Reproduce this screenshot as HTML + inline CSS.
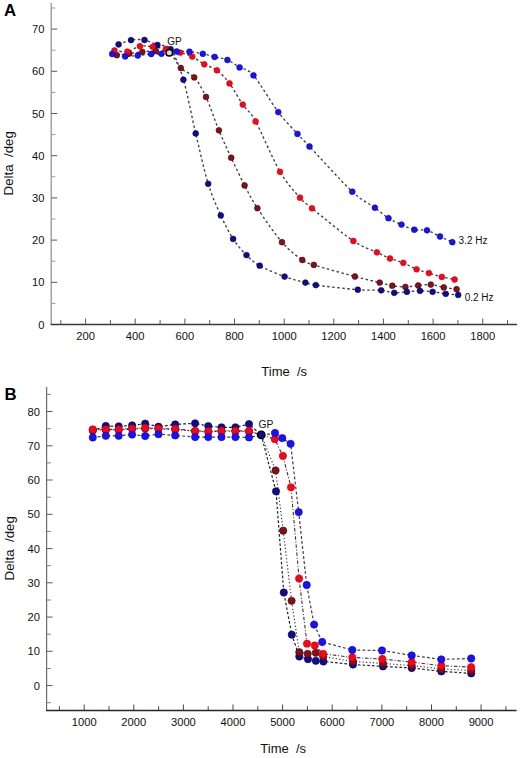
<!DOCTYPE html>
<html><head><meta charset="utf-8"><style>
html,body{margin:0;padding:0;background:#fff;}
body{width:520px;height:758px;position:relative;overflow:hidden;font-family:"Liberation Sans", sans-serif;}
</style></head><body>
<svg width="520" height="758" viewBox="0 0 520 758" style="position:absolute;left:0;top:0" font-family='"Liberation Sans", sans-serif'><rect width="520" height="758" fill="#fff"/><line x1="51.2" y1="3" x2="51.2" y2="324.6" stroke="#8c8c8c" stroke-width="1.2"/><line x1="50.6" y1="324.6" x2="517" y2="324.6" stroke="#383838" stroke-width="1.5"/><text x="44.5" y="328.5" font-size="11.2" text-anchor="end" fill="#111">0</text><line x1="51.2" y1="303.4" x2="55.400000000000006" y2="303.4" stroke="#9a9a9a" stroke-width="1"/><line x1="51.2" y1="282.3" x2="57.2" y2="282.3" stroke="#5a5a5a" stroke-width="1"/><text x="44.5" y="286.3" font-size="11.2" text-anchor="end" fill="#111">10</text><line x1="51.2" y1="261.2" x2="55.400000000000006" y2="261.2" stroke="#9a9a9a" stroke-width="1"/><line x1="51.2" y1="240.1" x2="57.2" y2="240.1" stroke="#5a5a5a" stroke-width="1"/><text x="44.5" y="244.1" font-size="11.2" text-anchor="end" fill="#111">20</text><line x1="51.2" y1="219.0" x2="55.400000000000006" y2="219.0" stroke="#9a9a9a" stroke-width="1"/><line x1="51.2" y1="197.9" x2="57.2" y2="197.9" stroke="#5a5a5a" stroke-width="1"/><text x="44.5" y="201.9" font-size="11.2" text-anchor="end" fill="#111">30</text><line x1="51.2" y1="176.8" x2="55.400000000000006" y2="176.8" stroke="#9a9a9a" stroke-width="1"/><line x1="51.2" y1="155.7" x2="57.2" y2="155.7" stroke="#5a5a5a" stroke-width="1"/><text x="44.5" y="159.7" font-size="11.2" text-anchor="end" fill="#111">40</text><line x1="51.2" y1="134.6" x2="55.400000000000006" y2="134.6" stroke="#9a9a9a" stroke-width="1"/><line x1="51.2" y1="113.5" x2="57.2" y2="113.5" stroke="#5a5a5a" stroke-width="1"/><text x="44.5" y="117.5" font-size="11.2" text-anchor="end" fill="#111">50</text><line x1="51.2" y1="92.4" x2="55.400000000000006" y2="92.4" stroke="#9a9a9a" stroke-width="1"/><line x1="51.2" y1="71.3" x2="57.2" y2="71.3" stroke="#5a5a5a" stroke-width="1"/><text x="44.5" y="75.3" font-size="11.2" text-anchor="end" fill="#111">60</text><line x1="51.2" y1="50.2" x2="55.400000000000006" y2="50.2" stroke="#9a9a9a" stroke-width="1"/><line x1="51.2" y1="29.1" x2="57.2" y2="29.1" stroke="#5a5a5a" stroke-width="1"/><text x="44.5" y="33.1" font-size="11.2" text-anchor="end" fill="#111">70</text><line x1="51.2" y1="8.0" x2="55.400000000000006" y2="8.0" stroke="#9a9a9a" stroke-width="1"/><line x1="60.8" y1="324.6" x2="60.8" y2="320.1" stroke="#555" stroke-width="1"/><line x1="85.6" y1="324.6" x2="85.6" y2="318.6" stroke="#555" stroke-width="1"/><text x="85.6" y="339.6" font-size="11.2" text-anchor="middle" fill="#111">200</text><line x1="110.4" y1="324.6" x2="110.4" y2="320.1" stroke="#555" stroke-width="1"/><line x1="135.2" y1="324.6" x2="135.2" y2="318.6" stroke="#555" stroke-width="1"/><text x="135.2" y="339.6" font-size="11.2" text-anchor="middle" fill="#111">400</text><line x1="160.1" y1="324.6" x2="160.1" y2="320.1" stroke="#555" stroke-width="1"/><line x1="184.9" y1="324.6" x2="184.9" y2="318.6" stroke="#555" stroke-width="1"/><text x="184.9" y="339.6" font-size="11.2" text-anchor="middle" fill="#111">600</text><line x1="209.7" y1="324.6" x2="209.7" y2="320.1" stroke="#555" stroke-width="1"/><line x1="234.5" y1="324.6" x2="234.5" y2="318.6" stroke="#555" stroke-width="1"/><text x="234.5" y="339.6" font-size="11.2" text-anchor="middle" fill="#111">800</text><line x1="259.3" y1="324.6" x2="259.3" y2="320.1" stroke="#555" stroke-width="1"/><line x1="284.2" y1="324.6" x2="284.2" y2="318.6" stroke="#555" stroke-width="1"/><text x="284.2" y="339.6" font-size="11.2" text-anchor="middle" fill="#111">1000</text><line x1="309.0" y1="324.6" x2="309.0" y2="320.1" stroke="#555" stroke-width="1"/><line x1="333.8" y1="324.6" x2="333.8" y2="318.6" stroke="#555" stroke-width="1"/><text x="333.8" y="339.6" font-size="11.2" text-anchor="middle" fill="#111">1200</text><line x1="358.6" y1="324.6" x2="358.6" y2="320.1" stroke="#555" stroke-width="1"/><line x1="383.4" y1="324.6" x2="383.4" y2="318.6" stroke="#555" stroke-width="1"/><text x="383.4" y="339.6" font-size="11.2" text-anchor="middle" fill="#111">1400</text><line x1="408.3" y1="324.6" x2="408.3" y2="320.1" stroke="#555" stroke-width="1"/><line x1="433.1" y1="324.6" x2="433.1" y2="318.6" stroke="#555" stroke-width="1"/><text x="433.1" y="339.6" font-size="11.2" text-anchor="middle" fill="#111">1600</text><line x1="457.9" y1="324.6" x2="457.9" y2="320.1" stroke="#555" stroke-width="1"/><line x1="482.7" y1="324.6" x2="482.7" y2="318.6" stroke="#555" stroke-width="1"/><text x="482.7" y="339.6" font-size="11.2" text-anchor="middle" fill="#111">1800</text><line x1="507.5" y1="324.6" x2="507.5" y2="320.1" stroke="#555" stroke-width="1"/><text x="261.3" y="376" font-size="13" fill="#111" xml:space="preserve">Time  /s</text><text transform="translate(12.7,163.3) rotate(-90)" font-size="13.3" text-anchor="middle" fill="#111" xml:space="preserve">Delta  /deg</text><text x="4.0" y="16.2" font-size="16.8" font-weight="bold" fill="#000">A</text><path d="M118.60,44.40 C120.67,43.68 126.68,40.83 131.00,40.10 C135.32,39.37 140.10,39.18 144.50,40.00 C148.90,40.82 153.05,43.47 157.40,45.00 C161.75,46.53 166.27,43.42 170.60,49.20 C174.93,54.98 179.22,65.67 183.40,79.70 C187.58,93.73 191.57,116.05 195.70,133.40 C199.83,150.75 204.02,170.13 208.20,183.80 C212.38,197.47 216.65,206.22 220.80,215.40 C224.95,224.58 228.82,232.28 233.10,238.90 C237.38,245.52 242.07,250.63 246.50,255.10 C250.93,259.57 253.35,262.12 259.70,265.70 C266.05,269.28 276.98,273.78 284.60,276.60 C292.22,279.42 300.20,281.18 305.40,282.60 C310.60,284.02 307.07,283.92 315.80,285.10 C324.53,286.28 346.90,288.83 357.80,289.70 C368.70,290.57 375.13,289.78 381.20,290.30 C387.27,290.82 389.92,292.55 394.20,292.80 C398.48,293.05 402.60,292.13 406.90,291.80 C411.20,291.47 415.72,290.80 420.00,290.80 C424.28,290.80 428.32,291.30 432.60,291.80 C436.88,292.30 441.43,293.28 445.70,293.80 C449.97,294.32 456.12,294.72 458.20,294.90" fill="none" stroke="#3a3f4a" stroke-width="1.35" stroke-dasharray="2.5 2.5"/><path d="M116.80,55.20 C118.88,54.93 125.05,54.15 129.30,53.60 C133.55,53.05 137.88,52.33 142.30,51.90 C146.72,51.47 151.30,50.93 155.80,51.00 C160.30,51.07 165.13,49.47 169.30,52.30 C173.47,55.13 176.65,63.82 180.80,68.00 C184.95,72.18 190.00,72.58 194.20,77.40 C198.40,82.22 201.88,88.08 206.00,96.90 C210.12,105.72 214.70,120.17 218.90,130.30 C223.10,140.43 226.92,148.52 231.20,157.70 C235.48,166.88 240.23,176.98 244.60,185.40 C248.97,193.82 251.17,198.73 257.40,208.20 C263.63,217.67 274.52,233.57 282.00,242.20 C289.48,250.83 297.00,256.22 302.30,260.00 C307.60,263.78 305.03,262.15 313.80,264.90 C322.57,267.65 343.92,273.55 354.90,276.50 C365.88,279.45 373.47,281.07 379.70,282.60 C385.93,284.13 388.02,284.98 392.30,285.70 C396.58,286.42 401.08,286.93 405.40,286.90 C409.72,286.87 413.97,285.88 418.20,285.50 C422.43,285.12 426.53,284.28 430.80,284.60 C435.07,284.92 439.50,286.63 443.80,287.40 C448.10,288.17 454.47,288.90 456.60,289.20" fill="none" stroke="#3a3f4a" stroke-width="1.35" stroke-dasharray="2.5 2.5"/><path d="M114.40,50.50 C116.57,50.68 123.15,52.32 127.40,51.60 C131.65,50.88 135.68,47.00 139.90,46.20 C144.12,45.40 148.38,46.33 152.70,46.80 C157.02,47.27 161.22,48.03 165.80,49.00 C170.38,49.97 175.78,51.33 180.20,52.60 C184.62,53.87 188.28,54.65 192.30,56.60 C196.32,58.55 200.20,62.02 204.30,64.30 C208.40,66.58 212.70,67.12 216.90,70.30 C221.10,73.48 225.18,77.68 229.50,83.40 C233.82,89.12 238.45,98.27 242.80,104.60 C247.15,110.93 249.40,110.20 255.60,121.40 C261.80,132.60 272.60,159.08 280.00,171.80 C287.40,184.52 294.67,191.62 300.00,197.70 C305.33,203.78 303.10,201.08 312.00,208.30 C320.90,215.52 342.58,233.67 353.40,241.00 C364.22,248.33 370.80,249.38 376.90,252.30 C383.00,255.22 385.60,256.75 390.00,258.50 C394.40,260.25 398.87,261.00 403.30,262.80 C407.73,264.60 412.33,267.58 416.60,269.30 C420.87,271.02 424.70,271.83 428.90,273.10 C433.10,274.37 437.52,275.83 441.80,276.90 C446.08,277.97 452.47,279.07 454.60,279.50" fill="none" stroke="#3a3f4a" stroke-width="1.35" stroke-dasharray="2.5 2.5"/><path d="M112.20,54.00 C114.37,54.40 120.93,56.15 125.20,56.40 C129.47,56.65 133.47,55.90 137.80,55.50 C142.13,55.10 147.25,54.28 151.20,54.00 C155.15,53.72 157.25,54.22 161.50,53.80 C165.75,53.38 172.03,51.85 176.70,51.50 C181.37,51.15 185.15,51.32 189.50,51.70 C193.85,52.08 198.62,52.93 202.80,53.80 C206.98,54.67 210.50,55.87 214.60,56.90 C218.70,57.93 223.23,58.25 227.40,60.00 C231.57,61.75 235.25,64.83 239.60,67.40 C243.95,69.97 247.05,67.95 253.50,75.40 C259.95,82.85 270.97,102.35 278.30,112.10 C285.63,121.85 292.30,128.17 297.50,133.90 C302.70,139.63 300.37,136.87 309.50,146.50 C318.63,156.13 341.40,181.50 352.30,191.70 C363.20,201.90 368.87,203.28 374.90,207.70 C380.93,212.12 384.07,215.38 388.50,218.20 C392.93,221.02 397.20,222.68 401.50,224.60 C405.80,226.52 410.05,228.75 414.30,229.70 C418.55,230.65 422.72,229.17 427.00,230.30 C431.28,231.43 435.78,234.52 440.00,236.50 C444.22,238.48 450.25,241.25 452.30,242.20" fill="none" stroke="#3a3f4a" stroke-width="1.35" stroke-dasharray="2.5 2.5"/><g fill="#821218" stroke="#4e0008" stroke-width="0.6"><circle cx="116.8" cy="55.2" r="2.90"/><circle cx="129.3" cy="53.6" r="2.90"/><circle cx="142.3" cy="51.9" r="2.90"/><circle cx="155.8" cy="51.0" r="2.90"/><circle cx="180.8" cy="68.0" r="2.90"/><circle cx="194.2" cy="77.4" r="2.90"/><circle cx="206.0" cy="96.9" r="2.90"/><circle cx="218.9" cy="130.3" r="2.90"/><circle cx="231.2" cy="157.7" r="2.90"/><circle cx="244.6" cy="185.4" r="2.90"/><circle cx="257.4" cy="208.2" r="2.90"/><circle cx="282.0" cy="242.2" r="2.90"/><circle cx="302.3" cy="260.0" r="2.90"/><circle cx="313.8" cy="264.9" r="2.90"/><circle cx="354.9" cy="276.5" r="2.90"/><circle cx="379.7" cy="282.6" r="2.90"/><circle cx="392.3" cy="285.7" r="2.90"/><circle cx="405.4" cy="286.9" r="2.90"/><circle cx="418.2" cy="285.5" r="2.90"/><circle cx="430.8" cy="284.6" r="2.90"/><circle cx="443.8" cy="287.4" r="2.90"/><circle cx="456.6" cy="289.2" r="2.90"/></g><g fill="#0e0e8c" stroke="#000058" stroke-width="0.6"><circle cx="118.6" cy="44.4" r="2.90"/><circle cx="131.0" cy="40.1" r="2.90"/><circle cx="144.5" cy="40.0" r="2.90"/><circle cx="157.4" cy="45.0" r="2.90"/><circle cx="170.6" cy="49.2" r="2.90"/><circle cx="183.4" cy="79.7" r="2.90"/><circle cx="195.7" cy="133.4" r="2.90"/><circle cx="208.2" cy="183.8" r="2.90"/><circle cx="220.8" cy="215.4" r="2.90"/><circle cx="233.1" cy="238.9" r="2.90"/><circle cx="246.5" cy="255.1" r="2.90"/><circle cx="259.7" cy="265.7" r="2.90"/><circle cx="284.6" cy="276.6" r="2.90"/><circle cx="305.4" cy="282.6" r="2.90"/><circle cx="315.8" cy="285.1" r="2.90"/><circle cx="357.8" cy="289.7" r="2.90"/><circle cx="381.2" cy="290.3" r="2.90"/><circle cx="394.2" cy="292.8" r="2.90"/><circle cx="406.9" cy="291.8" r="2.90"/><circle cx="420.0" cy="290.8" r="2.90"/><circle cx="432.6" cy="291.8" r="2.90"/><circle cx="445.7" cy="293.8" r="2.90"/><circle cx="458.2" cy="294.9" r="2.90"/></g><g fill="#fc0414" stroke="#c8000e" stroke-width="0.6"><circle cx="114.4" cy="50.5" r="2.90"/><circle cx="127.4" cy="51.6" r="2.90"/><circle cx="139.9" cy="46.2" r="2.90"/><circle cx="152.7" cy="46.8" r="2.90"/><circle cx="165.8" cy="49.0" r="2.90"/><circle cx="180.2" cy="52.6" r="2.90"/><circle cx="192.3" cy="56.6" r="2.90"/><circle cx="204.3" cy="64.3" r="2.90"/><circle cx="216.9" cy="70.3" r="2.90"/><circle cx="229.5" cy="83.4" r="2.90"/><circle cx="242.8" cy="104.6" r="2.90"/><circle cx="255.6" cy="121.4" r="2.90"/><circle cx="280.0" cy="171.8" r="2.90"/><circle cx="300.0" cy="197.7" r="2.90"/><circle cx="312.0" cy="208.3" r="2.90"/><circle cx="353.4" cy="241.0" r="2.90"/><circle cx="376.9" cy="252.3" r="2.90"/><circle cx="390.0" cy="258.5" r="2.90"/><circle cx="403.3" cy="262.8" r="2.90"/><circle cx="416.6" cy="269.3" r="2.90"/><circle cx="428.9" cy="273.1" r="2.90"/><circle cx="441.8" cy="276.9" r="2.90"/><circle cx="454.6" cy="279.5" r="2.90"/></g><g fill="#1a12f6" stroke="#0000bc" stroke-width="0.6"><circle cx="112.2" cy="54.0" r="2.90"/><circle cx="125.2" cy="56.4" r="2.90"/><circle cx="137.8" cy="55.5" r="2.90"/><circle cx="151.2" cy="54.0" r="2.90"/><circle cx="161.5" cy="53.8" r="2.90"/><circle cx="176.7" cy="51.5" r="2.90"/><circle cx="189.5" cy="51.7" r="2.90"/><circle cx="202.8" cy="53.8" r="2.90"/><circle cx="214.6" cy="56.9" r="2.90"/><circle cx="227.4" cy="60.0" r="2.90"/><circle cx="239.6" cy="67.4" r="2.90"/><circle cx="253.5" cy="75.4" r="2.90"/><circle cx="278.3" cy="112.1" r="2.90"/><circle cx="297.5" cy="133.9" r="2.90"/><circle cx="309.5" cy="146.5" r="2.90"/><circle cx="352.3" cy="191.7" r="2.90"/><circle cx="374.9" cy="207.7" r="2.90"/><circle cx="388.5" cy="218.2" r="2.90"/><circle cx="401.5" cy="224.6" r="2.90"/><circle cx="414.3" cy="229.7" r="2.90"/><circle cx="427.0" cy="230.3" r="2.90"/><circle cx="440.0" cy="236.5" r="2.90"/><circle cx="452.3" cy="242.2" r="2.90"/></g><circle cx="169.3" cy="52.7" r="3.3" fill="#f0d0d4" stroke="#000" stroke-width="1.6"/><text x="167.2" y="45.0" font-size="10" fill="#111">GP</text><text x="458.6" y="243.6" font-size="10" fill="#111">3.2 Hz</text><text x="464.7" y="300.9" font-size="10" fill="#111">0.2 Hz</text><line x1="46.6" y1="386.9" x2="46.6" y2="710.5" stroke="#6a6a6a" stroke-width="1.2"/><line x1="46.0" y1="710.5" x2="516.6" y2="710.5" stroke="#262626" stroke-width="1.5"/><line x1="46.6" y1="702.7" x2="50.9" y2="702.7" stroke="#808080" stroke-width="1"/><line x1="46.6" y1="685.6" x2="52.6" y2="685.6" stroke="#5a5a5a" stroke-width="1"/><text x="40" y="689.6" font-size="11.2" text-anchor="end" fill="#111">0</text><line x1="46.6" y1="668.5" x2="50.9" y2="668.5" stroke="#808080" stroke-width="1"/><line x1="46.6" y1="651.3" x2="52.6" y2="651.3" stroke="#5a5a5a" stroke-width="1"/><text x="40" y="655.3" font-size="11.2" text-anchor="end" fill="#111">10</text><line x1="46.6" y1="634.2" x2="50.9" y2="634.2" stroke="#808080" stroke-width="1"/><line x1="46.6" y1="617.1" x2="52.6" y2="617.1" stroke="#5a5a5a" stroke-width="1"/><text x="40" y="621.1" font-size="11.2" text-anchor="end" fill="#111">20</text><line x1="46.6" y1="600.0" x2="50.9" y2="600.0" stroke="#808080" stroke-width="1"/><line x1="46.6" y1="582.8" x2="52.6" y2="582.8" stroke="#5a5a5a" stroke-width="1"/><text x="40" y="586.8" font-size="11.2" text-anchor="end" fill="#111">30</text><line x1="46.6" y1="565.7" x2="50.9" y2="565.7" stroke="#808080" stroke-width="1"/><line x1="46.6" y1="548.6" x2="52.6" y2="548.6" stroke="#5a5a5a" stroke-width="1"/><text x="40" y="552.6" font-size="11.2" text-anchor="end" fill="#111">40</text><line x1="46.6" y1="531.4" x2="50.9" y2="531.4" stroke="#808080" stroke-width="1"/><line x1="46.6" y1="514.3" x2="52.6" y2="514.3" stroke="#5a5a5a" stroke-width="1"/><text x="40" y="518.3" font-size="11.2" text-anchor="end" fill="#111">50</text><line x1="46.6" y1="497.2" x2="50.9" y2="497.2" stroke="#808080" stroke-width="1"/><line x1="46.6" y1="480.0" x2="52.6" y2="480.0" stroke="#5a5a5a" stroke-width="1"/><text x="40" y="484.0" font-size="11.2" text-anchor="end" fill="#111">60</text><line x1="46.6" y1="462.9" x2="50.9" y2="462.9" stroke="#808080" stroke-width="1"/><line x1="46.6" y1="445.8" x2="52.6" y2="445.8" stroke="#5a5a5a" stroke-width="1"/><text x="40" y="449.8" font-size="11.2" text-anchor="end" fill="#111">70</text><line x1="46.6" y1="428.7" x2="50.9" y2="428.7" stroke="#808080" stroke-width="1"/><line x1="46.6" y1="411.5" x2="52.6" y2="411.5" stroke="#5a5a5a" stroke-width="1"/><text x="40" y="415.5" font-size="11.2" text-anchor="end" fill="#111">80</text><line x1="46.6" y1="394.4" x2="50.9" y2="394.4" stroke="#808080" stroke-width="1"/><line x1="59.4" y1="710.5" x2="59.4" y2="706.2" stroke="#444" stroke-width="1"/><line x1="84.2" y1="710.5" x2="84.2" y2="704.5" stroke="#444" stroke-width="1"/><text x="84.2" y="725.8" font-size="11.2" text-anchor="middle" fill="#111">1000</text><line x1="109.0" y1="710.5" x2="109.0" y2="706.2" stroke="#444" stroke-width="1"/><line x1="133.8" y1="710.5" x2="133.8" y2="704.5" stroke="#444" stroke-width="1"/><text x="133.8" y="725.8" font-size="11.2" text-anchor="middle" fill="#111">2000</text><line x1="158.6" y1="710.5" x2="158.6" y2="706.2" stroke="#444" stroke-width="1"/><line x1="183.4" y1="710.5" x2="183.4" y2="704.5" stroke="#444" stroke-width="1"/><text x="183.4" y="725.8" font-size="11.2" text-anchor="middle" fill="#111">3000</text><line x1="208.2" y1="710.5" x2="208.2" y2="706.2" stroke="#444" stroke-width="1"/><line x1="233.0" y1="710.5" x2="233.0" y2="704.5" stroke="#444" stroke-width="1"/><text x="233.0" y="725.8" font-size="11.2" text-anchor="middle" fill="#111">4000</text><line x1="257.8" y1="710.5" x2="257.8" y2="706.2" stroke="#444" stroke-width="1"/><line x1="282.6" y1="710.5" x2="282.6" y2="704.5" stroke="#444" stroke-width="1"/><text x="282.6" y="725.8" font-size="11.2" text-anchor="middle" fill="#111">5000</text><line x1="307.4" y1="710.5" x2="307.4" y2="706.2" stroke="#444" stroke-width="1"/><line x1="332.2" y1="710.5" x2="332.2" y2="704.5" stroke="#444" stroke-width="1"/><text x="332.2" y="725.8" font-size="11.2" text-anchor="middle" fill="#111">6000</text><line x1="357.1" y1="710.5" x2="357.1" y2="706.2" stroke="#444" stroke-width="1"/><line x1="381.9" y1="710.5" x2="381.9" y2="704.5" stroke="#444" stroke-width="1"/><text x="381.9" y="725.8" font-size="11.2" text-anchor="middle" fill="#111">7000</text><line x1="406.7" y1="710.5" x2="406.7" y2="706.2" stroke="#444" stroke-width="1"/><line x1="431.5" y1="710.5" x2="431.5" y2="704.5" stroke="#444" stroke-width="1"/><text x="431.5" y="725.8" font-size="11.2" text-anchor="middle" fill="#111">8000</text><line x1="456.3" y1="710.5" x2="456.3" y2="706.2" stroke="#444" stroke-width="1"/><line x1="481.1" y1="710.5" x2="481.1" y2="704.5" stroke="#444" stroke-width="1"/><text x="481.1" y="725.8" font-size="11.2" text-anchor="middle" fill="#111">9000</text><line x1="505.9" y1="710.5" x2="505.9" y2="706.2" stroke="#444" stroke-width="1"/><text x="260.3" y="753.0" font-size="13" fill="#111" xml:space="preserve">Time  /s</text><text transform="translate(13.6,548.3) rotate(-90)" font-size="13.3" text-anchor="middle" fill="#111" xml:space="preserve">Delta  /deg</text><text x="4.6" y="400.4" font-size="16.8" font-weight="bold" fill="#000">B</text><path d="M92.80,430.50 C92.80,430.50 105.80,426.00 105.80,426.00 C105.80,426.00 118.70,426.30 118.70,426.30 C118.70,426.30 132.10,425.40 132.10,425.40 C132.10,425.40 145.20,423.60 145.20,423.60 C145.20,423.60 158.50,426.70 158.50,426.70 C158.50,426.70 175.20,424.40 175.20,424.40 C175.20,424.40 195.10,423.30 195.10,423.30 C195.10,423.30 208.30,426.10 208.30,426.10 C208.30,426.10 221.50,427.30 221.50,427.30 C221.50,427.30 235.40,427.30 235.40,427.30 C235.40,427.30 249.00,424.10 249.00,424.10 C249.00,424.10 261.20,434.90 261.20,434.90 C261.20,434.90 276.00,491.30 276.00,491.30 C276.00,491.30 283.80,592.50 283.80,592.50 C283.80,592.50 291.80,634.70 291.80,634.70 C291.80,634.70 299.30,656.50 299.30,656.50 C299.30,656.50 308.00,659.20 308.00,659.20 C308.00,659.20 315.80,660.80 315.80,660.80 C315.80,660.80 323.40,661.50 323.40,661.50 C323.40,661.50 353.00,664.50 353.00,664.50 C353.00,664.50 383.00,666.40 383.00,666.40 C383.00,666.40 411.70,668.00 411.70,668.00 C411.70,668.00 441.30,671.40 441.30,671.40 C441.30,671.40 471.20,673.40 471.20,673.40" fill="none" stroke="#202030" stroke-width="1.2" stroke-dasharray="2.6 2"/><path d="M92.80,429.90 C92.80,429.90 105.80,429.90 105.80,429.90 C105.80,429.90 118.70,429.90 118.70,429.90 C118.70,429.90 132.10,429.10 132.10,429.10 C132.10,429.10 145.20,428.40 145.20,428.40 C145.20,428.40 158.50,429.00 158.50,429.00 C158.50,429.00 175.20,429.50 175.20,429.50 C175.20,429.50 195.10,431.30 195.10,431.30 C195.10,431.30 208.30,431.80 208.30,431.80 C208.30,431.80 221.50,431.30 221.50,431.30 C221.50,431.30 235.40,431.30 235.40,431.30 C235.40,431.30 249.00,431.50 249.00,431.50 C249.00,431.50 261.20,434.90 261.20,434.90 C261.20,434.90 275.60,470.40 275.60,470.40 C275.60,470.40 283.20,530.70 283.20,530.70 C283.20,530.70 291.60,600.80 291.60,600.80 C291.60,600.80 299.30,652.20 299.30,652.20 C299.30,652.20 307.70,653.80 307.70,653.80 C307.70,653.80 315.80,652.80 315.80,652.80 C315.80,652.80 323.20,656.50 323.20,656.50 C323.20,656.50 353.00,661.50 353.00,661.50 C353.00,661.50 383.00,663.50 383.00,663.50 C383.00,663.50 411.70,665.50 411.70,665.50 C411.70,665.50 441.30,669.00 441.30,669.00 C441.30,669.00 471.20,670.50 471.20,670.50" fill="none" stroke="#402020" stroke-width="1.1" stroke-dasharray="1.2 2.2"/><path d="M92.80,429.40 C92.80,429.40 105.80,429.40 105.80,429.40 C105.80,429.40 118.70,429.40 118.70,429.40 C118.70,429.40 132.10,428.60 132.10,428.60 C132.10,428.60 145.20,427.90 145.20,427.90 C145.20,427.90 158.50,428.50 158.50,428.50 C158.50,428.50 175.20,429.00 175.20,429.00 C175.20,429.00 195.10,430.80 195.10,430.80 C195.10,430.80 208.30,431.30 208.30,431.30 C208.30,431.30 221.50,430.80 221.50,430.80 C221.50,430.80 235.40,430.80 235.40,430.80 C235.40,430.80 249.00,431.00 249.00,431.00 C249.00,431.00 274.80,439.20 274.80,439.20 C274.80,439.20 282.90,455.90 282.90,455.90 C282.90,455.90 291.00,487.30 291.00,487.30 C291.00,487.30 299.10,578.60 299.10,578.60 C299.10,578.60 307.00,643.70 307.00,643.70 C307.00,643.70 314.80,645.50 314.80,645.50 C314.80,645.50 323.20,653.80 323.20,653.80 C323.20,653.80 352.30,657.40 352.30,657.40 C352.30,657.40 382.30,659.00 382.30,659.00 C382.30,659.00 411.70,662.10 411.70,662.10 C411.70,662.10 441.30,665.70 441.30,665.70 C441.30,665.70 471.20,667.10 471.20,667.10" fill="none" stroke="#4a3038" stroke-width="1.1" stroke-dasharray="3.5 1.8 1 1.8"/><path d="M92.80,437.50 C92.80,437.50 105.80,435.80 105.80,435.80 C105.80,435.80 118.70,435.80 118.70,435.80 C118.70,435.80 132.10,434.60 132.10,434.60 C132.10,434.60 145.20,436.00 145.20,436.00 C145.20,436.00 158.50,434.20 158.50,434.20 C158.50,434.20 175.20,435.40 175.20,435.40 C175.20,435.40 195.10,437.10 195.10,437.10 C195.10,437.10 208.30,437.10 208.30,437.10 C208.30,437.10 221.50,437.10 221.50,437.10 C221.50,437.10 235.40,437.10 235.40,437.10 C235.40,437.10 249.00,437.40 249.00,437.40 C249.00,437.40 275.00,433.00 275.00,433.00 C275.00,433.00 282.30,438.10 282.30,438.10 C282.30,438.10 290.60,443.80 290.60,443.80 C290.60,443.80 298.70,512.10 298.70,512.10 C298.70,512.10 306.70,585.00 306.70,585.00 C306.70,585.00 314.10,624.60 314.10,624.60 C314.10,624.60 322.20,642.00 322.20,642.00 C322.20,642.00 352.30,650.00 352.30,650.00 C352.30,650.00 382.00,650.50 382.00,650.50 C382.00,650.50 411.70,655.40 411.70,655.40 C411.70,655.40 441.30,659.40 441.30,659.40 C441.30,659.40 471.20,658.50 471.20,658.50" fill="none" stroke="#3a3f4a" stroke-width="1.2" stroke-dasharray="2.8 2.2"/><g fill="#0e0e8c" stroke="#000058" stroke-width="0.6"><circle cx="92.8" cy="430.5" r="3.65"/><circle cx="105.8" cy="426.0" r="3.65"/><circle cx="118.7" cy="426.3" r="3.65"/><circle cx="132.1" cy="425.4" r="3.65"/><circle cx="145.2" cy="423.6" r="3.65"/><circle cx="158.5" cy="426.7" r="3.65"/><circle cx="175.2" cy="424.4" r="3.65"/><circle cx="195.1" cy="423.3" r="3.65"/><circle cx="208.3" cy="426.1" r="3.65"/><circle cx="221.5" cy="427.3" r="3.65"/><circle cx="235.4" cy="427.3" r="3.65"/><circle cx="249.0" cy="424.1" r="3.65"/></g><g fill="#821218" stroke="#4e0008" stroke-width="0.6"><circle cx="92.8" cy="429.9" r="3.65"/><circle cx="105.8" cy="429.9" r="3.65"/><circle cx="118.7" cy="429.9" r="3.65"/><circle cx="132.1" cy="429.1" r="3.65"/><circle cx="145.2" cy="428.4" r="3.65"/><circle cx="158.5" cy="429.0" r="3.65"/><circle cx="175.2" cy="429.5" r="3.65"/><circle cx="195.1" cy="431.3" r="3.65"/><circle cx="208.3" cy="431.8" r="3.65"/><circle cx="221.5" cy="431.3" r="3.65"/><circle cx="235.4" cy="431.3" r="3.65"/><circle cx="249.0" cy="431.5" r="3.65"/></g><g fill="#fc0414" stroke="#c8000e" stroke-width="0.6"><circle cx="92.8" cy="429.4" r="3.65"/><circle cx="105.8" cy="429.4" r="3.65"/><circle cx="118.7" cy="429.4" r="3.65"/><circle cx="132.1" cy="428.6" r="3.65"/><circle cx="145.2" cy="427.9" r="3.65"/><circle cx="158.5" cy="428.5" r="3.65"/><circle cx="175.2" cy="429.0" r="3.65"/><circle cx="195.1" cy="430.8" r="3.65"/><circle cx="208.3" cy="431.3" r="3.65"/><circle cx="221.5" cy="430.8" r="3.65"/><circle cx="235.4" cy="430.8" r="3.65"/><circle cx="249.0" cy="431.0" r="3.65"/></g><g fill="#1a12f6" stroke="#0000bc" stroke-width="0.6"><circle cx="92.8" cy="437.5" r="3.65"/><circle cx="105.8" cy="435.8" r="3.65"/><circle cx="118.7" cy="435.8" r="3.65"/><circle cx="132.1" cy="434.6" r="3.65"/><circle cx="145.2" cy="436.0" r="3.65"/><circle cx="158.5" cy="434.2" r="3.65"/><circle cx="175.2" cy="435.4" r="3.65"/><circle cx="195.1" cy="437.1" r="3.65"/><circle cx="208.3" cy="437.1" r="3.65"/><circle cx="221.5" cy="437.1" r="3.65"/><circle cx="235.4" cy="437.1" r="3.65"/><circle cx="249.0" cy="437.4" r="3.65"/></g><g fill="#0e0e8c" stroke="#000058" stroke-width="0.6"><circle cx="276.0" cy="491.3" r="3.65"/><circle cx="283.8" cy="592.5" r="3.65"/><circle cx="291.8" cy="634.7" r="3.65"/><circle cx="299.3" cy="656.5" r="3.65"/><circle cx="308.0" cy="659.2" r="3.65"/><circle cx="315.8" cy="660.8" r="3.65"/><circle cx="323.4" cy="661.5" r="3.65"/><circle cx="353.0" cy="664.5" r="3.65"/><circle cx="383.0" cy="666.4" r="3.65"/><circle cx="411.7" cy="668.0" r="3.65"/><circle cx="441.3" cy="671.4" r="3.65"/><circle cx="471.2" cy="673.4" r="3.65"/></g><g fill="#821218" stroke="#4e0008" stroke-width="0.6"><circle cx="275.6" cy="470.4" r="3.65"/><circle cx="283.2" cy="530.7" r="3.65"/><circle cx="291.6" cy="600.8" r="3.65"/><circle cx="299.3" cy="652.2" r="3.65"/><circle cx="307.7" cy="653.8" r="3.65"/><circle cx="315.8" cy="652.8" r="3.65"/><circle cx="323.2" cy="656.5" r="3.65"/><circle cx="353.0" cy="661.5" r="3.65"/><circle cx="383.0" cy="663.5" r="3.65"/><circle cx="411.7" cy="665.5" r="3.65"/><circle cx="441.3" cy="669.0" r="3.65"/><circle cx="471.2" cy="670.5" r="3.65"/></g><g fill="#fc0414" stroke="#c8000e" stroke-width="0.6"><circle cx="274.8" cy="439.2" r="3.65"/><circle cx="282.9" cy="455.9" r="3.65"/><circle cx="291.0" cy="487.3" r="3.65"/><circle cx="299.1" cy="578.6" r="3.65"/><circle cx="307.0" cy="643.7" r="3.65"/><circle cx="314.8" cy="645.5" r="3.65"/><circle cx="323.2" cy="653.8" r="3.65"/><circle cx="352.3" cy="657.4" r="3.65"/><circle cx="382.3" cy="659.0" r="3.65"/><circle cx="411.7" cy="662.1" r="3.65"/><circle cx="441.3" cy="665.7" r="3.65"/><circle cx="471.2" cy="667.1" r="3.65"/></g><g fill="#1a12f6" stroke="#0000bc" stroke-width="0.6"><circle cx="275.0" cy="433.0" r="3.65"/><circle cx="282.3" cy="438.1" r="3.65"/><circle cx="290.6" cy="443.8" r="3.65"/><circle cx="298.7" cy="512.1" r="3.65"/><circle cx="306.7" cy="585.0" r="3.65"/><circle cx="314.1" cy="624.6" r="3.65"/><circle cx="322.2" cy="642.0" r="3.65"/><circle cx="352.3" cy="650.0" r="3.65"/><circle cx="382.0" cy="650.5" r="3.65"/><circle cx="411.7" cy="655.4" r="3.65"/><circle cx="441.3" cy="659.4" r="3.65"/><circle cx="471.2" cy="658.5" r="3.65"/></g><circle cx="261.2" cy="434.9" r="3.8" fill="#0e0e8c" stroke="#000" stroke-width="1.3"/><text x="258.6" y="427.6" font-size="10.3" fill="#111">GP</text></svg>
</body></html>
